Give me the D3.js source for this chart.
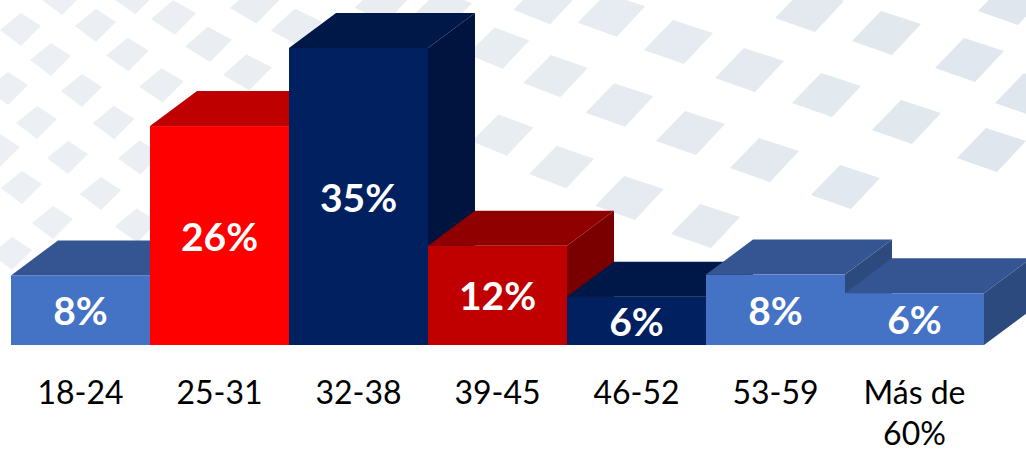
<!DOCTYPE html>
<html><head><meta charset="utf-8">
<script src="https://cdn.jsdelivr.net/npm/d3@7"></script>
<style>html,body{margin:0;padding:0;background:#fff}svg{display:block}</style>
</head><body><svg id="c" width="1026" height="449"></svg>
<script>
const categories=["18-24","25-31","32-38","39-45","46-52","53-59","Más de 60%"];
const values=[8.2,25.8,35,11.7,5.7,8.3,6.1];
const valueLabels=["8%","26%","35%","12%","6%","8%","6%"];
const frontColors=["#4472c4","#ff0000","#002060","#c00000","#002060","#4472c4","#4472c4"];
const topColors=["#355592","#bf0000","#001848","#900000","#001848","#355592","#355592"];
const sideColors=["#2c4a7e","#a00000","#00143f","#7a0000","#00143f","#2c4a7e","#2c4a7e"];
const patternCenters=[[21,29],[96,25],[174,17],[62,-2],[255,5],[135,-3],[51,59],[128,54],[209,44],[297,27],[8,88],[82,90],[162,85],[248,72],[37,122],[114,122],[0,150],[68,157],[140,157],[22,187],[101,193],[53,222],[137,225],[12,253],[383,3],[443,10],[499,48],[503,135],[546,3],[612,15],[679,42],[556,76],[750,70],[810,10],[887,33],[970,60],[827,95],[620,105],[691,133],[765,160],[907,122],[992,150],[562,167],[846,187],[630,198],[706,226],[1013,3],[1030,95]];
const shapeLeft=[[-21,1],[0,-16],[20,-3],[0,17]];
const shapeRight=[[-35,8],[-6,-22],[34,-9],[5,22]];

const W=1026,H=449;
const svg=d3.select("#c");
const x=d3.scaleBand().domain(categories).range([11,984]).padding(0);
const y=d3.scaleLinear().domain([0,35]).range([345,48]);
const depthX=47,depthY=-35;
const shapeAt=d3.scaleLinear().domain([96,640]).range([0,1]).clamp(true);
const bgColor=d3.scaleLinear().domain([0,500,1026]).range(["#eceff3","#e8edf2","#dfe6ed"]);

svg.append("g").selectAll("polygon").data(patternCenters).join("polygon")
  .attr("fill",d=>bgColor(d[0]))
  .attr("points",d=>{
    const s=d3.interpolate(shapeLeft,shapeRight)(shapeAt(d[0]));
    return s.map(p=>[d[0]+p[0],d[1]+p[1]].join(",")).join(" ");
  });

const bars=svg.append("g").selectAll("g").data(categories).join("g");
const pts=a=>a.map(p=>p.join(",")).join(" ");
bars.append("polygon").attr("fill",(d,i)=>sideColors[i]).attr("points",(d,i)=>{
  const r=x(d)+x.bandwidth(),t=y(values[i]),b=y(0);
  return pts([[r,t],[r+depthX,t+depthY],[r+depthX,b+depthY],[r,b]]);
});
bars.append("polygon").attr("fill",(d,i)=>topColors[i]).attr("points",(d,i)=>{
  const l=x(d),r=l+x.bandwidth(),t=y(values[i]);
  return pts([[l,t],[l+depthX,t+depthY],[r+depthX,t+depthY],[r,t]]);
});
bars.append("rect").attr("fill",(d,i)=>frontColors[i])
  .attr("x",d=>x(d)).attr("width",x.bandwidth())
  .attr("y",(d,i)=>y(values[i])).attr("height",(d,i)=>y(0)-y(values[i]));

svg.append("g").selectAll("text").data(categories).join("text")
  .attr("x",d=>x(d)+x.bandwidth()/2)
  .attr("y",(d,i)=>(y(values[i])+y(0))/2+15)
  .attr("text-anchor","middle").attr("fill","#fff")
  .style("font","700 39px Lato").text((d,i)=>valueLabels[i]);

const axis=svg.append("g").attr("transform","translate(0,345)")
  .call(d3.axisBottom(x).tickSize(0).tickPadding(0));
axis.select(".domain").remove();
axis.selectAll("text").each(function(d){
  const t=d3.select(this).text(null).attr("y",59).attr("dy",null)
    .attr("fill","#000").style("font","400 32px Lato");
  const words=d==="Más de 60%"?["Más de","60%"]:[d];
  words.forEach((w,i)=>t.append("tspan").attr("x",0).attr("dy",i?41:0).text(w));
});
</script></body></html>
